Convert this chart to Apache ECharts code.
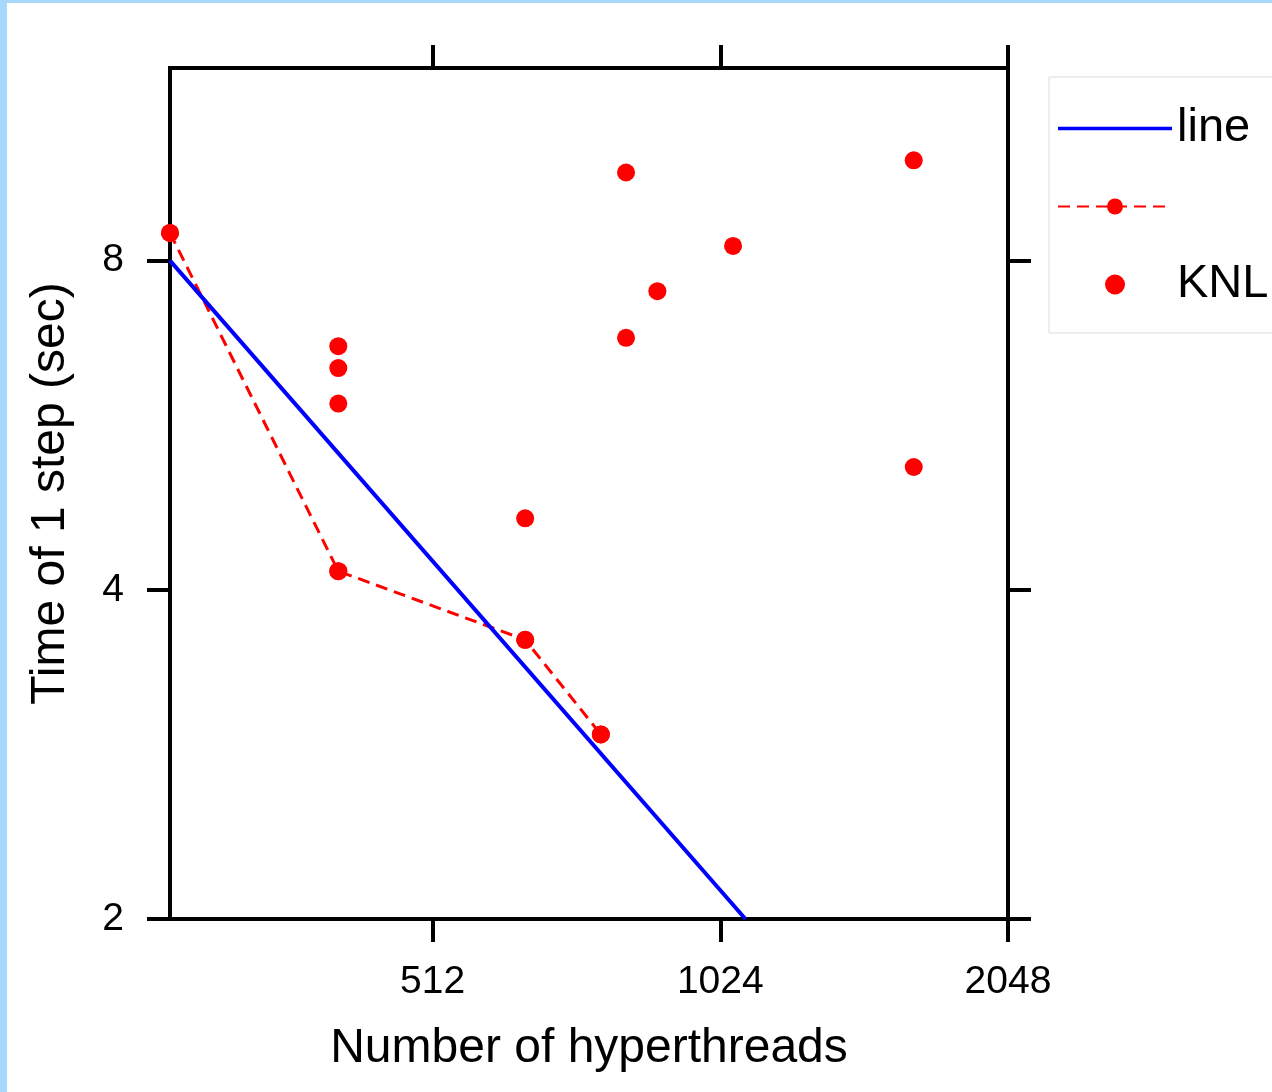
<!DOCTYPE html>
<html>
<head>
<meta charset="utf-8">
<script src="https://cdn.jsdelivr.net/npm/echarts@6/dist/echarts.min.js"></script>
<style>
  html, body { margin: 0; padding: 0; }
  body { width: 1272px; height: 1092px; background: #a8d8fb; position: relative; overflow: hidden; }
  #sheet { position: absolute; left: 7px; top: 3px; right: 0; bottom: 0; background: #ffffff; }
  #chart { position: absolute; left: 0; top: 0; width: 1272px; height: 1092px; }
</style>
</head>
<body>
<div id="sheet"></div>
<div id="chart"></div>
<script>
// Ideal strong-scaling reference: time halves when threads double
const idealThreads = [272, 1088];
const idealTimes = [8, 2];

// Fastest measured step time at each thread count
const bestThreads = [272, 408, 640, 768];
const bestTimes = [8.48, 4.16, 3.60, 2.95];

// All KNL measurements
const knlThreads = [272, 408, 408, 408, 408, 640, 640, 768, 816, 816, 880, 1056, 1632, 1632];
const knlTimes = [8.48, 6.68, 6.38, 5.92, 4.16, 4.65, 3.60, 2.95, 9.63, 6.80, 7.50, 8.25, 9.88, 5.18];

// Tick positions on both log2 axes
const xTicks = [512, 1024, 2048];
const yTicks = [2, 4, 8];

const FONT = '"Liberation Sans", Arial, Helvetica, sans-serif';
const pairs = (xs, ys) => xs.map((x, i) => [x, ys[i]]);
const plain = (v) => String(Math.round(v));

const frameLine = { show: true, onZero: false, lineStyle: { color: '#000', width: 4, cap: 'square' } };
const frameTick = (vals) => ({
  show: true, inside: false, length: 23, customValues: vals,
  lineStyle: { color: '#000', width: 4 }
});

const chart = echarts.init(document.getElementById('chart'), null, { renderer: 'canvas' });

chart.setOption({
  animation: false,
  backgroundColor: 'transparent',
  textStyle: { fontFamily: FONT },
  grid: { left: 170, right: 264, top: 68, bottom: 173, containLabel: false },
  xAxis: [
    {
      type: 'log', logBase: 2, min: 272, max: 2048, position: 'bottom',
      axisLine: frameLine, axisTick: frameTick(xTicks),
      axisLabel: { customValues: xTicks, formatter: plain, margin: 44, fontSize: 39, color: '#000', fontFamily: FONT },
      splitLine: { show: false }, minorTick: { show: false },
      name: 'Number of hyperthreads', nameLocation: 'middle', nameGap: 106,
      nameTextStyle: { fontSize: 48, color: '#000', fontFamily: FONT }
    },
    {
      type: 'log', logBase: 2, min: 272, max: 2048, position: 'top',
      axisLine: frameLine, axisTick: frameTick(xTicks),
      axisLabel: { show: false }, splitLine: { show: false }
    }
  ],
  yAxis: [
    {
      type: 'log', logBase: 2, min: 2, max: 12, position: 'left',
      axisLine: frameLine, axisTick: frameTick(yTicks),
      axisLabel: { customValues: yTicks, formatter: plain, margin: 46, fontSize: 39, color: '#000', fontFamily: FONT },
      splitLine: { show: false },
      name: 'Time of 1 step (sec)', nameLocation: 'middle', nameGap: 95,
      nameTextStyle: { fontSize: 48, color: '#000', fontFamily: FONT }
    },
    {
      type: 'log', logBase: 2, min: 2, max: 12, position: 'right',
      axisLine: frameLine, axisTick: frameTick(yTicks),
      axisLabel: { show: false }, splitLine: { show: false }
    }
  ],
  legend: {
    orient: 'vertical', left: 1049, top: 77,
    padding: [28, 60, 25, 8],
    itemWidth: 114, itemHeight: 20, itemGap: 31,
    backgroundColor: '#ffffff', borderColor: '#dcdcdc', borderWidth: 1, borderRadius: 0,
    symbolKeepAspect: true, selectedMode: false,
    textStyle: { fontSize: 47, color: '#000', fontFamily: FONT },
    formatter: (name) => (name === 'KNL best' ? ' ' : name),
    data: [
      { name: 'line', icon: 'path://M0,0H114V3.5H0Z' },
      { name: 'KNL best' },
      { name: 'KNL' }
    ]
  },
  series: [
    {
      name: 'KNL best', type: 'line', xAxisIndex: 0, yAxisIndex: 0,
      data: pairs(bestThreads, bestTimes),
      symbol: 'circle', symbolSize: 18, showSymbol: true, clip: false,
      lineStyle: { color: '#ff0000', width: 3, type: [12, 7] },
      itemStyle: { color: '#ff0000', opacity: 1 }
    },
    {
      name: 'line', type: 'line', xAxisIndex: 0, yAxisIndex: 0,
      data: pairs(idealThreads, idealTimes),
      symbol: 'none', clip: false,
      lineStyle: { color: '#0000ff', width: 4 },
      itemStyle: { color: '#0000ff' }
    },
    {
      name: 'KNL', type: 'scatter', xAxisIndex: 0, yAxisIndex: 0,
      data: pairs(knlThreads, knlTimes),
      symbol: 'circle', symbolSize: 18, clip: false,
      itemStyle: { color: '#ff0000', opacity: 1 }
    }
  ]
});
</script>
</body>
</html>
